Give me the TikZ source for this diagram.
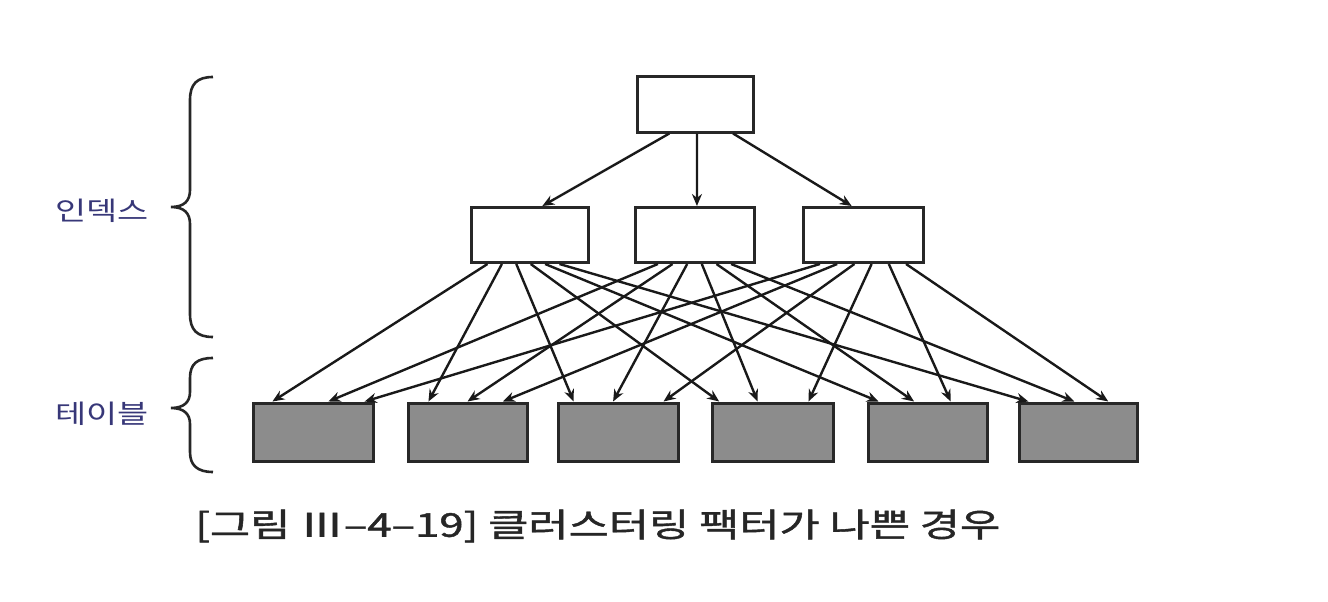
\documentclass[tikz,border=0pt]{standalone}
\usepackage{fontspec}
\newfontfamily\krfont{Noto Sans CJK KR}
\newfontfamily\krcapfont[FakeBold=1.2]{Noto Sans CJK KR}
\usetikzlibrary{arrows.meta,calc}
\definecolor{lblblue}{RGB}{55,55,120}
\definecolor{tblgray}{RGB}{140,140,140}
\definecolor{edge}{RGB}{40,40,40}
\tikzset{
  ibox/.style={draw=edge,line width=3pt,fill=white,minimum height=55pt,inner sep=0pt},
  tbox/.style={draw=edge,line width=3pt,fill=tblgray,minimum height=58pt,inner sep=0pt},
  arr/.style={draw=black!90,line width=2.4pt,-{Stealth[length=12pt,width=10pt]}},
  brc/.style={draw=black!85,line width=2.6pt},
  lbl/.style={text=lblblue,font=\krfont\fontsize{26}{28}\selectfont,inner sep=0pt},
  captext/.style={text=black!85,font=\krcapfont\fontsize{34}{36}\selectfont,inner sep=0pt}
}
\begin{document}
\begin{tikzpicture}[x=1pt,y=-1pt]
\useasboundingbox (0,0) rectangle (1328,602);
% index boxes
\node[ibox,minimum width=116pt] (t) at (695,104.5) {};
\node[ibox,minimum width=117pt] (m1) at (529.5,235) {};
\node[ibox,minimum width=119pt] (m2) at (694.5,235) {};
\node[ibox,minimum width=120pt] (m3) at (863,235) {};
% table boxes
\node[tbox,minimum width=120pt] (b1) at (313,432) {};
\node[tbox,minimum width=119pt] (b2) at (467.5,432) {};
\node[tbox,minimum width=120pt] (b3) at (618,432) {};
\node[tbox,minimum width=121pt] (b4) at (772.5,432) {};
\node[tbox,minimum width=119pt] (b5) at (927.5,432) {};
\node[tbox,minimum width=118pt] (b6) at (1078,432) {};
% top arrows
\foreach \m/\s/\e in {m1/0.284/0.607, m2/0.517/0.52, m3/0.82/0.408}
  \draw[arr] ($(t.south west)!\s!(t.south east)$) -- ($(\m.north west)!\e!(\m.north east)$);
% middle to table arrows
\foreach \m/\s/\b/\e in {
  m1/0.15/b1/0.17, m1/0.27/b2/0.18, m1/0.39/b3/0.14, m1/0.51/b4/0.07, m1/0.63/b5/0.10, m1/0.75/b6/0.09,
  m2/0.20/b1/0.625, m2/0.32/b2/0.50, m2/0.44/b3/0.46, m2/0.56/b4/0.38, m2/0.68/b5/0.39, m2/0.80/b6/0.47,
  m3/0.15/b1/0.92, m3/0.29/b2/0.79, m3/0.43/b3/0.87, m3/0.57/b4/0.79, m3/0.71/b5/0.69, m3/0.85/b6/0.75}
  \draw[arr] ($(\m.south west)!\s!(\m.south east)$) -- ($(\b.north west)!\e!(\b.north east)$);
% braces
\draw[brc] (213,77) .. controls (197,77) and (190,84) .. (190,100) -- (190,190)
  .. controls (190,201) and (184,207) .. (171,207) .. controls (184,207) and (190,213) .. (190,224)
  -- (190,314) .. controls (190,330) and (197,337) .. (213,337);
\draw[brc] (213,358) .. controls (197,358) and (190,364) .. (190,378) -- (190,392)
  .. controls (190,402) and (184,408) .. (171,408) .. controls (184,408) and (190,414) .. (190,424)
  -- (190,452) .. controls (190,465) and (197,472) .. (213,472);
% labels
\node[lbl,anchor=west] (li) at (55,211) {\scalebox{1.3}[1]{인덱스}};
\node[lbl,anchor=west] (lt) at (55,414) {\scalebox{1.3}[1]{테이블}};
\node[captext,anchor=west] (c) at (195,526) {\resizebox{805pt}{!}{\scalebox{1}[0.75]{[그림 Ⅲ–4–19] 클러스터링 팩터가 나쁜 경우}}};
\end{tikzpicture}
\end{document}
